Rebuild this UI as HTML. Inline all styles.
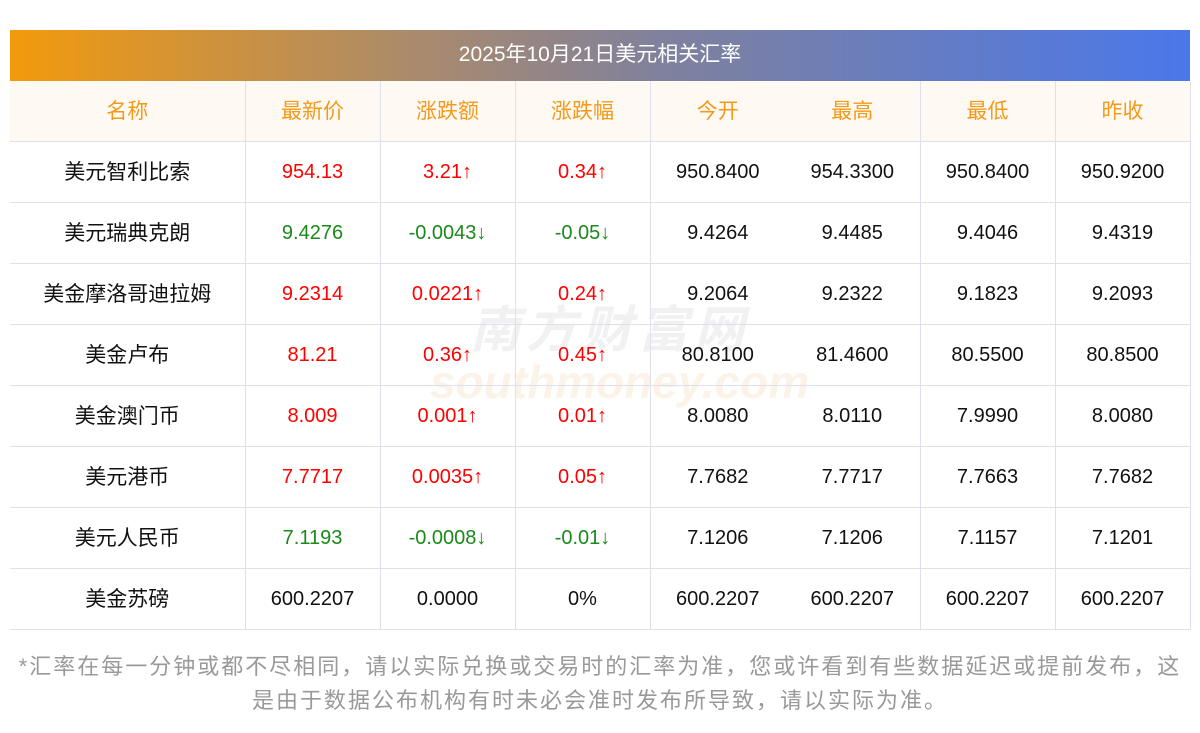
<!DOCTYPE html>
<html><head><meta charset="utf-8"><style>
body{margin:0;width:1200px;height:733px;background:#fff;font-family:"Liberation Sans","Noto Sans CJK SC",sans-serif;position:relative;overflow:hidden}
.title{position:absolute;left:10px;top:30px;width:1180px;height:51px;background:linear-gradient(90deg,#f39a0c 0%,#a98a6e 35%,#80819c 55%,#4a78ea 100%);color:#fff;font-size:21px;line-height:49px;text-align:center}
table{position:absolute;left:10px;top:81px;border-collapse:collapse;width:1180px;table-layout:fixed}
td{height:60px;border-bottom:1px solid #dfe0ec;text-align:center;font-size:20px;color:#111;padding:0}
tr.h td{background:#fff9f3;color:#f39a1a;height:60px}
td.v{border-right:1px solid #dfe0ec}
tr td:last-child{border-right:1px solid #dfe0ec}
.c{position:relative;top:-1px;font-size:21px}
.r{color:#f00}.g{color:#1a8a1a}
.foot{position:absolute;left:0;top:650px;width:1200px;text-align:center;color:#999;font-size:22px;line-height:34px;letter-spacing:2px}
.wm{position:absolute;color:rgba(200,200,200,0.25);font-style:italic;font-weight:bold}
</style></head><body>
<div class="title">2025年10月21日美元相关汇率</div>
<div class="wm" style="left:470px;top:290px;font-size:50px;letter-spacing:6px">南方财富网</div>
<div class="wm" style="left:430px;top:355px;font-size:46px;color:rgba(240,200,150,0.22)">southmoney.com</div>
<table>
<colgroup><col style="width:235px"><col style="width:135px"><col style="width:135px"><col style="width:135px"><col style="width:135px"><col style="width:135px"><col style="width:135px"><col style="width:135px"></colgroup>
<tr class="h"><td class="v"><span class="c">名称</span></td><td class="v"><span class="c">最新价</span></td><td class="v"><span class="c">涨跌额</span></td><td class="v"><span class="c">涨跌幅</span></td><td><span class="c">今开</span></td><td class="v"><span class="c">最高</span></td><td class="v"><span class="c">最低</span></td><td><span class="c">昨收</span></td></tr>
<tr><td class="v"><span class="c">美元智利比索</span></td><td class="v r">954.13</td><td class="v r">3.21↑</td><td class="v r">0.34↑</td><td>950.8400</td><td class="v">954.3300</td><td class="v">950.8400</td><td>950.9200</td></tr>
<tr><td class="v"><span class="c">美元瑞典克朗</span></td><td class="v g">9.4276</td><td class="v g">-0.0043↓</td><td class="v g">-0.05↓</td><td>9.4264</td><td class="v">9.4485</td><td class="v">9.4046</td><td>9.4319</td></tr>
<tr><td class="v"><span class="c">美金摩洛哥迪拉姆</span></td><td class="v r">9.2314</td><td class="v r">0.0221↑</td><td class="v r">0.24↑</td><td>9.2064</td><td class="v">9.2322</td><td class="v">9.1823</td><td>9.2093</td></tr>
<tr><td class="v"><span class="c">美金卢布</span></td><td class="v r">81.21</td><td class="v r">0.36↑</td><td class="v r">0.45↑</td><td>80.8100</td><td class="v">81.4600</td><td class="v">80.5500</td><td>80.8500</td></tr>
<tr><td class="v"><span class="c">美金澳门币</span></td><td class="v r">8.009</td><td class="v r">0.001↑</td><td class="v r">0.01↑</td><td>8.0080</td><td class="v">8.0110</td><td class="v">7.9990</td><td>8.0080</td></tr>
<tr><td class="v"><span class="c">美元港币</span></td><td class="v r">7.7717</td><td class="v r">0.0035↑</td><td class="v r">0.05↑</td><td>7.7682</td><td class="v">7.7717</td><td class="v">7.7663</td><td>7.7682</td></tr>
<tr><td class="v"><span class="c">美元人民币</span></td><td class="v g">7.1193</td><td class="v g">-0.0008↓</td><td class="v g">-0.01↓</td><td>7.1206</td><td class="v">7.1206</td><td class="v">7.1157</td><td>7.1201</td></tr>
<tr><td class="v"><span class="c">美金苏磅</span></td><td class="v">600.2207</td><td class="v">0.0000</td><td class="v">0%</td><td>600.2207</td><td class="v">600.2207</td><td class="v">600.2207</td><td>600.2207</td></tr>
</table>
<div class="foot">*汇率在每一分钟或都不尽相同，请以实际兑换或交易时的汇率为准，您或许看到有些数据延迟或提前发布，这<br>是由于数据公布机构有时未必会准时发布所导致，请以实际为准。</div>
</body></html>
